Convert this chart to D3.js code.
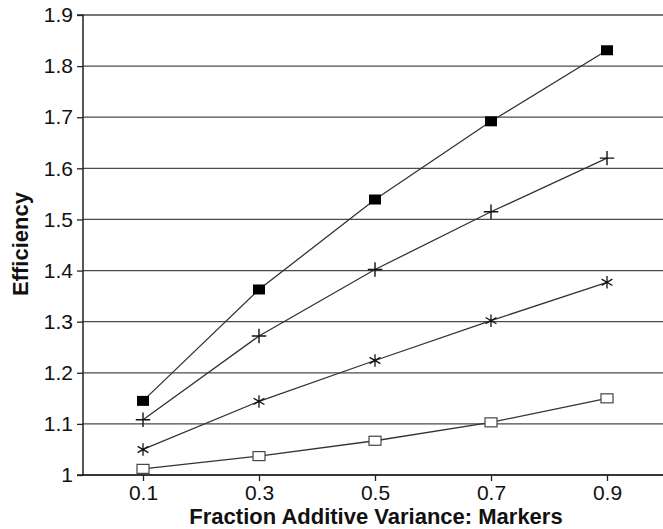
<!DOCTYPE html>
<html>
<head>
<meta charset="utf-8">
<script src="https://cdn.jsdelivr.net/npm/d3@7"></script>
<style>
  body { margin: 0; background: #fff; }
  text { font-family: "Liberation Sans", Arial, sans-serif; fill: #111; }
</style>
</head>
<body>
<div id="chart"></div>
<script>
var svgWidth = 663;
var svgHeight = 529;

var margin = {
    top: 15,
    bottom: 54,
    right: 0,
    left: 83
}

var chartWidth = svgWidth - margin.left - margin.right;
var chartHeight = svgHeight - margin.top - margin.bottom;

// data
var xValues = [0.1, 0.3, 0.5, 0.7, 0.9];
var filledSquare = [1.145, 1.363, 1.539, 1.692, 1.831];
var plusSeries = [1.108, 1.272, 1.402, 1.515, 1.620];
var starSeries = [1.050, 1.144, 1.224, 1.302, 1.377];
var openSquare = [1.012, 1.037, 1.067, 1.103, 1.150];
var yTicks = [1, 1.1, 1.2, 1.3, 1.4, 1.5, 1.6, 1.7, 1.8, 1.9];

var series = [
    {name: 'filled', values: filledSquare},
    {name: 'plus', values: plusSeries},
    {name: 'star', values: starSeries},
    {name: 'open', values: openSquare}
];

var svg = d3.select('#chart')
    .append('svg')
    .attr('width', svgWidth)
    .attr('height', svgHeight)

var chartGroup = svg.append('g')
    .attr('transform', `translate(${margin.left},${margin.top})`);

var xScale = d3.scaleLinear()
    .domain([0, 1])
    .range([2, chartWidth + 2])

var yScale = d3.scaleLinear()
    .domain([1, 1.9])
    .range([chartHeight, 0])

// horizontal grid lines
chartGroup.selectAll('.grid')
    .data(yTicks)
    .enter()
    .append('line')
    .attr('x1', 0)
    .attr('x2', chartWidth)
    .attr('y1', d => yScale(d))
    .attr('y2', d => yScale(d))
    .attr('stroke', '#4a4a4a')
    .attr('stroke-width', 1.3)

// y axis
var leftAxis = d3.axisLeft(yScale)
    .tickValues(yTicks)
    .tickSize(6)
    .tickPadding(4)
    .tickFormat(d3.format('~g'))
var yAxis = chartGroup.append('g').call(leftAxis);
yAxis.select('.domain').attr('stroke', '#222').attr('stroke-width', 1.5)
    .attr('d', `M-6,0H0V${chartHeight}H-6`)
yAxis.selectAll('.tick line').attr('stroke', '#222').attr('stroke-width', 1.3)
yAxis.selectAll('text')
    .attr('font-size', '21px')
    .attr('font-family', '"Liberation Sans", Arial, sans-serif')
    .attr('fill', '#111')

// x axis
var bottomAxis = d3.axisBottom(xScale)
    .tickValues(xValues)
    .tickSize(6)
    .tickPadding(4)
    .tickFormat(d3.format('.1f'))
var xAxis = chartGroup.append('g')
    .attr('transform', `translate(0,${chartHeight})`)
    .call(bottomAxis);
xAxis.select('.domain').attr('stroke', '#222').attr('stroke-width', 1.5)
    .attr('d', `M0,0H${chartWidth}`)
xAxis.selectAll('.tick line').attr('stroke', '#222').attr('stroke-width', 1.3)
xAxis.selectAll('text')
    .attr('font-size', '21px')
    .attr('font-family', '"Liberation Sans", Arial, sans-serif')
    .attr('fill', '#111')

// lines
var line = d3.line()
    .x((d, i) => xScale(xValues[i]))
    .y(d => yScale(d))

chartGroup.selectAll('.series')
    .data(series)
    .enter()
    .append('path')
    .attr('d', d => line(d.values))
    .attr('fill', 'none')
    .attr('stroke', '#333')
    .attr('stroke-width', 1.3)

// markers
function markerPoints(s) {
    return s.values.map((v, i) => ({x: xValues[i], y: v}));
}

chartGroup.selectAll('.filled')
    .data(markerPoints(series[0]))
    .enter()
    .append('rect')
    .attr('x', d => xScale(d.x) - 6)
    .attr('y', d => yScale(d.y) - 5)
    .attr('width', 12)
    .attr('height', 10)
    .attr('fill', '#000')

chartGroup.selectAll('.open')
    .data(markerPoints(series[3]))
    .enter()
    .append('rect')
    .attr('x', d => xScale(d.x) - 6)
    .attr('y', d => yScale(d.y) - 4.5)
    .attr('width', 12)
    .attr('height', 9)
    .attr('fill', '#fff')
    .attr('stroke', '#444')
    .attr('stroke-width', 1.2)

chartGroup.selectAll('.plus')
    .data(markerPoints(series[1]))
    .enter()
    .append('path')
    .attr('transform', d => `translate(${xScale(d.x)},${yScale(d.y)})`)
    .attr('d', d3.symbol().type(d3.symbolPlus).size(70))
    .attr('fill', 'none')
    .attr('stroke', '#111')
    .attr('stroke-width', 1.4)

chartGroup.selectAll('.star')
    .data(markerPoints(series[2]))
    .enter()
    .append('path')
    .attr('transform', d => `translate(${xScale(d.x)},${yScale(d.y)})`)
    .attr('d', d3.symbol().type(d3.symbolAsterisk).size(110))
    .attr('fill', 'none')
    .attr('stroke', '#111')
    .attr('stroke-width', 1.3)

// axis titles
svg.append('text')
    .attr('x', 376)
    .attr('y', 524)
    .attr('text-anchor', 'middle')
    .attr('font-size', '22px')
    .attr('font-weight', 'bold')
    .text('Fraction Additive Variance: Markers')

svg.append('text')
    .attr('transform', 'translate(28,244) rotate(-90)')
    .attr('text-anchor', 'middle')
    .attr('font-size', '22px')
    .attr('font-weight', 'bold')
    .text('Efficiency')
</script>
</body>
</html>
